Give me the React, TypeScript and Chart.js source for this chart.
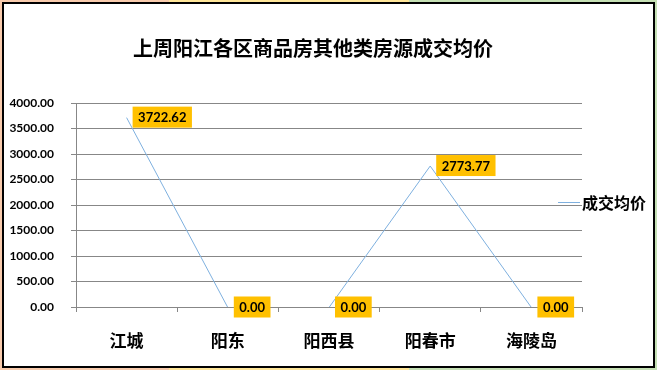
import React, { useEffect, useRef } from "react";
import { Chart, registerables } from "chart.js";

Chart.register(...registerables);

const title = "上周阳江各区商品房其他类房源成交均价";
const categories = ["江城", "阳东", "阳西县", "阳春市", "海陵岛"];
const seriesName = "成交均价";
const values = [3722.62, 0.0, 0.0, 2773.77, 0.0];
const yMin = 0;
const yMax = 4000;
const yStep = 500;

const LINE_COLOR = "#7eb0df";
const GRID_COLOR = "#878787";
const LABEL_BG = "#ffc000";

const overlayPlugin = {
  id: "overlay",
  beforeDatasetsDraw(chart: any) {
    chart.ctx.save();
    chart.ctx.translate(0, 0.5);
  },
  afterDatasetsDraw(chart: any) {
    const ctx = chart.ctx;
    ctx.restore();
    const area = chart.chartArea;
    ctx.save();
    // axis line over the series (as in the reference)
    ctx.strokeStyle = GRID_COLOR;
    ctx.lineWidth = 1;
    ctx.beginPath();
    const yb = Math.round(area.bottom) + 0.5;
    ctx.moveTo(area.left, yb);
    ctx.lineTo(area.right, yb);
    ctx.stroke();

    // title
    ctx.fillStyle = "#000";
    ctx.font = "bold 20px 'Noto Sans CJK SC'";
    ctx.textAlign = "center";
    ctx.textBaseline = "middle";
    ctx.fillText(title, 313, 48);

    // data labels
    const meta = chart.getDatasetMeta(0);
    ctx.font = "bold 13px Lato";
    meta.data.forEach((pt: any, i: number) => {
      const txt = values[i].toFixed(2);
      const w = ctx.measureText(txt).width + 11;
      const h = 21;
      const x = pt.x + 6;
      const y = pt.y - h / 2;
      ctx.fillStyle = LABEL_BG;
      ctx.fillRect(x, y, w, h);
      ctx.fillStyle = "#000";
      ctx.textAlign = "center";
      ctx.textBaseline = "middle";
      ctx.fillText(txt, x + w / 2, y + h / 2 + 1);
    });

    // legend
    ctx.strokeStyle = LINE_COLOR;
    ctx.lineWidth = 1;
    ctx.beginPath();
    ctx.moveTo(558, 202.5);
    ctx.lineTo(580, 202.5);
    ctx.stroke();
    ctx.fillStyle = "#000";
    ctx.font = "bold 16px 'Noto Sans CJK SC'";
    ctx.textAlign = "left";
    ctx.textBaseline = "middle";
    ctx.fillText(seriesName, 582, 203);
    ctx.restore();
  },
};

export default function App() {
  const ref = useRef<HTMLCanvasElement>(null);
  useEffect(() => {
    if (!ref.current) return;
    const chart = new Chart(ref.current, {
      type: "line",
      data: {
        labels: categories,
        datasets: [
          {
            label: seriesName,
            data: values,
            borderColor: LINE_COLOR,
            backgroundColor: LINE_COLOR,
            borderWidth: 1,
            pointRadius: 0,
            pointHoverRadius: 0,
            tension: 0,
            fill: false,
          },
        ],
      },
      options: {
        animation: false,
        responsive: false,
        maintainAspectRatio: false,
        events: [],
        layout: { padding: { left: 6, right: 75, top: 103, bottom: 13 } },
        plugins: {
          legend: { display: false },
          title: { display: false },
          tooltip: { enabled: false },
        },
        scales: {
          x: {
            type: "category",
            offset: true,
            afterFit: (s: any) => {
              s.height = 50;
            },
            grid: {
              offset: true,
              drawOnChartArea: false,
              drawTicks: true,
              tickLength: 5,
              color: GRID_COLOR,
            },
            border: { display: true, color: GRID_COLOR, width: 1 },
            ticks: {
              color: "#000",
              font: { family: "'Noto Sans CJK SC'", size: 17, weight: "bold" },
              padding: 18,
              maxRotation: 0,
            },
          },
          y: {
            min: yMin,
            max: yMax,
            afterFit: (s: any) => {
              s.width = 70;
            },
            grid: {
              color: GRID_COLOR,
              drawTicks: true,
              tickLength: 5,
            },
            border: { display: true, color: GRID_COLOR, width: 1 },
            ticks: {
              stepSize: yStep,
              color: "#000",
              padding: 17,
              font: { family: "Lato", size: 12, weight: "bold" },
              callback: (v: any) => Number(v).toFixed(2),
            },
          },
        },
      },
      plugins: [overlayPlugin],
    } as any);
    return () => chart.destroy();
  }, []);

  return (
    <div
      style={{
        position: "fixed",
        left: 0,
        top: 0,
        width: 657,
        height: 370,
        background:
          "linear-gradient(to right, #f8cbad 0px, #f8cbad 169px, #ffe699 169px, #ffe699 409px, #c5e0b4 409px, #c5e0b4 657px)",
      }}
    >
      <div
        style={{
          position: "absolute",
          left: 2,
          top: 2,
          width: 649,
          height: 362,
          border: "2px solid #000",
          background: "#fff",
        }}
      />
      <canvas
        ref={ref}
        width={657}
        height={370}
        style={{ position: "absolute", left: 0, top: 0, width: 657, height: 370 }}
      />
    </div>
  );
}
